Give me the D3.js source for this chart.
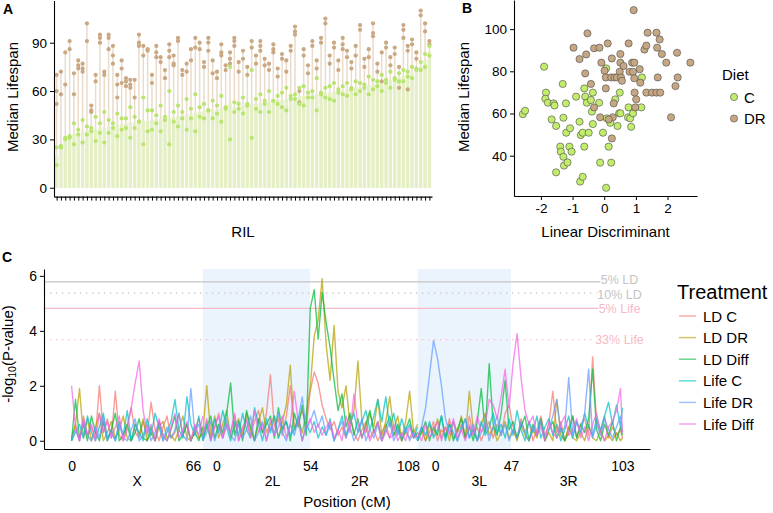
<!DOCTYPE html>
<html><head><meta charset="utf-8">
<script src="https://cdn.jsdelivr.net/npm/d3@7"></script>
<style>
body{margin:0;background:#fff;}
svg{display:block;font-family:"Liberation Sans",Arial,Helvetica,sans-serif;}
</style></head><body>
<svg id="chart" width="773" height="513"></svg>
<script>
// ---------- Panel A: lifespan per RIL (replicate medians) ----------
const cReps = [
[14,25],[25,26],[31,30],[31,32],[40,27],[36,33],[42,28],[38,33],[35,37],[44,29],
[40,34],[47,28],[42,34],[37,40],[46,32],[43,36],[37,43],[50,31],[44,37],[41,41],
[56,27],[48,35],[36,48],[45,40],[51,35],[42,44],[60,27],[47,41],[38,51],[43,47],
[55,36],[49,43],[58,35],[44,50],[52,43],[48,48],[54,43],[46,51],[57,41],[50,49],
[75,30],[53,47],[49,52],[56,46],[51,52],[73,31],[55,49],[47,58],[52,54],[60,47],
[54,54],[57,52],[50,59],[62,48],[55,57],[58,55],[52,62],[63,51],[56,59],[60,56],
[48,68],[58,59],[62,56],[55,63],[65,54],[59,61],[63,58],[57,65],[61,62],[66,58],
[60,65],[64,62],[58,69],[67,61],[63,66],[70,60],[65,67],[62,72],[68,67],[71,66],
[66,73],[72,69],[75,68],[73,74],[78,73],[83,75],[88,82]
];
const drReps = [
[70,60,52],[72,58],[84,64],[91,86],[58,71],[79,76,74],[77,72,74],[102,91],[51,48,47],[70,66],
[95,93,90],[72,70],[95,93,86],[88,82,77],[70,64,56],[79,74,65],[68,66,63],[67,64,62],[67,56],[95,90,88],
[88,82],[86,85],[70,65],[88,84,81],[81,78],[73,68],[89,85,81],[82,77,76],[93,91],[73,70],
[77,72],[86,79],[93,87],[90,86],[78,75],[93,90,85],[79,71],[72,68],[89,84,82],[76,73],
[84,80,77],[93,91,88],[78,72],[85,80],[75,70],[91,87],[82,77],[91,88,85],[80,76],[77,73],
[89,86,84],[74,69],[83,80],[79,72],[88,85],[100,97,95],[60,53],[86,82],[76,71],[91,88],
[79,74],[93,90],[105,102],[82,77],[90,87],[79,73],[93,89,86],[85,81],[78,74],[88,82],
[101,98],[80,75],[86,81],[102,96,94],[77,72],[84,66],[90,87],[81,76],[87,83],[75,62],
[101,98,93],[88,85,61],[92,89],[84,80],[110,107],[102,97],[91,89]
];
const ticksA = [0,30,60,90];

// ---------- Panel B: scatter ----------
const dietNames = ["C","DR"];
const scatterC = [
[-2.57,59.7],[-2.50,61.3],[-1.90,82.2],[-1.84,69.9],[-1.86,67.0],[-1.78,65.1],[-1.60,64.8],[-1.57,63.8],[-1.66,57.2],[-1.52,54.1],
[-1.31,74.0],[-1.29,58.0],[-1.21,64.8],[-1.20,50.9],[-1.08,53.0],[-1.39,44.3],[-1.37,41.9],[-1.29,39.5],[-1.27,35.3],[-1.16,36.8],
[-1.52,32.1],[-1.10,44.3],[-1.03,41.9],[-0.89,68.0],[-0.78,56.1],[-0.74,49.8],[-0.68,50.9],[-0.76,27.7],[-0.68,30.0],[-0.63,71.9],
[-0.60,68.0],[-0.55,65.1],[-0.49,50.9],[-0.63,44.3],[-0.42,66.4],[-0.36,69.9],[-0.39,60.9],[-0.36,55.0],[-0.16,65.1],[-0.04,50.9],
[-0.13,36.7],[0.06,81.4],[0.08,57.7],[0.19,55.6],[0.14,44.3],[0.22,36.7],[0.06,24.8],[0.35,66.7],[0.42,54.1],[0.47,60.1],
[0.51,60.1],[0.49,69.9],[0.75,58.2],[0.77,62.9],[0.82,57.7],[0.85,53.7],[0.91,60.1],[1.19,77.1],[1.17,62.9]
];
const scatterDR = [
[-0.97,91.2],[-0.78,85.8],[-0.57,88.0],[-0.53,98.0],[-0.60,79.0],[-0.42,74.0],[-0.32,90.9],[-0.15,91.2],[-0.09,84.1],[0.01,80.3],
[0.05,77.1],[0.05,71.9],[0.11,93.2],[-0.13,58.2],[-0.32,62.9],[0.24,86.1],[0.22,77.1],[0.32,77.1],[0.40,77.1],[0.51,88.2],
[0.51,84.1],[0.61,82.5],[0.49,79.8],[0.53,77.1],[0.56,75.5],[0.27,58.2],[0.14,57.2],[0.24,48.2],[0.30,64.8],[0.77,93.2],
[0.80,79.8],[0.91,79.8],[0.88,84.1],[0.95,84.1],[0.95,76.7],[0.93,109.0],[0.96,69.9],[1.01,66.7],[0.98,62.9],[1.12,81.0],
[1.27,90.3],[1.33,92.2],[1.37,98.3],[1.33,69.9],[1.51,69.9],[1.65,69.9],[1.77,69.9],[1.65,98.3],[1.75,95.1],[1.67,91.2],
[1.69,77.1],[1.82,88.2],[1.96,84.1],[2.11,58.2],[2.30,88.8],[2.25,73.0],[2.32,77.1],[2.72,84.1],[1.14,74.6]
];
const ticksBx = [-2,-1,0,1,2];
const ticksBy = [40,60,80,100];

// ---------- Panel C: QTL scans ----------
const chromNames = ["X","2","3"];
const chromLength = [66,108,103];
const chromOffset = [0,66,174];
const posStep = 2;
const armNames = ["X","2L","2R","3L","3R"];
const armLabelPos = [33,101,145,205,250];
const shadedArms = [[66,120],[174,221]];
const ticksCpos = [0,66,120,174,221,277];
const ticksClab = ["0","66\u00a0\u00a0\u00a00","54","108\u00a0\u00a0\u00a00","47","103"];
const ticksCy = [0,2,4,6];
const seriesNames = ["LD C","LD DR","LD Diff","Life C","Life DR","Life Diff"];
const seriesColors = ["#F8766D","#B79F00","#00BA38","#00BFC4","#619CFF","#F564E3"];

const ldC_X = [0.1,0.6,0.0,0.9,0.2,0.5,0.1,2.0,0.3,0.8,0.1,1.8,0.2,0.0,0.6,1.2,0.3,0.1,0.7,0.2,1.4,0.4,0.0,0.5,0.9,0.1,0.3,1.0,0.2,0.6,0.0,0.4,0.8,0.2];
const ldC_2 = [0.2,0.7,0.1,0.5,1.0,0.1,0.6,0.3,0.9,0.0,0.5,0.8,0.2,0.7,1.1,0.3,1.0,2.4,0.5,0.8,0.2,0.9,2.0,0.4,0.7,1.1,0.5,1.8,2.5,2.1,1.3,0.8,0.4,0.7,0.2,0.5,0.1,0.9,0.3,0.0,0.4,0.7,0.1,0.4,0.0,0.3,0.6,0.1,0.2,0.5,0.0,0.3,0.1,0.4,0.1];
const ldC_3 = [0.1,0.5,0.0,0.3,0.7,0.0,0.4,0.2,0.8,0.1,0.3,0.6,0.1,0.9,0.2,0.5,0.0,0.4,0.7,0.1,0.6,0.2,1.0,1.3,0.5,0.1,0.8,0.3,0.7,0.0,0.4,0.9,0.2,0.6,1.8,0.3,0.7,0.0,0.5,0.9,0.1,0.6,0.8,0.2,3.05,0.7,0.3,0.9,0.1,0.5,0.2,0.4,0.1];

const ldDR_X = [0.0,0.6,1.9,0.1,0.8,0.0,0.5,1.0,0.0,0.3,0.7,0.1,0.4,0.9,0.1,0.0,0.6,0.2,0.8,0.0,0.3,0.0,0.5,0.7,0.1,0.2,0.0,0.4,0.9,0.1,0.0,0.5,0.1,0.3];
const ldDR_2 = [0.3,2.0,0.2,0.9,0.1,0.6,1.1,0.1,0.5,0.8,0.2,1.0,0.4,0.0,0.7,1.2,0.3,0.6,0.9,0.1,0.7,1.3,2.75,0.4,0.8,0.3,1.0,1.9,3.8,4.4,5.9,3.5,2.2,4.2,1.8,1.2,2.0,0.6,1.1,2.9,0.7,0.3,1.0,0.5,1.5,0.2,0.7,1.6,0.4,0.9,0.1,0.7,1.8,0.3,0.6];
const ldDR_3 = [0.0,0.4,0.0,0.6,0.2,0.8,0.1,0.5,0.0,0.7,0.3,0.9,0.1,1.8,0.4,0.0,0.6,1.0,0.2,0.5,0.0,0.3,0.7,0.1,0.4,0.0,0.6,0.2,0.0,0.4,0.1,0.7,0.0,0.3,0.0,1.5,0.2,0.0,0.5,0.1,0.0,0.3,0.0,0.6,0.1,0.0,0.4,0.0,0.2,0.0,0.3,0.0,0.1];

const ldDiff_X = [0.0,1.5,0.1,0.6,0.0,0.9,0.3,0.0,0.7,0.0,0.4,1.0,0.0,0.2,0.6,0.0,0.3,0.8,0.1,0.0,0.5,0.0,0.7,0.2,0.0,0.4,0.9,0.0,0.2,0.6,0.0,0.3,0.0,0.5];
const ldDiff_2 = [0.0,0.5,0.9,0.1,0.6,0.3,1.0,2.1,0.2,0.7,0.0,1.1,0.5,0.0,0.8,0.3,0.6,0.9,0.1,1.2,0.4,0.7,0.0,1.0,0.5,1.3,0.2,4.8,5.5,3.7,5.4,4.3,3.4,2.2,1.1,1.7,0.5,1.0,0.2,0.8,0.1,0.6,1.1,0.3,0.7,0.0,0.5,0.9,0.2,0.6,0.0,0.4,0.8,0.1,0.3];
const ldDiff_3 = [0.0,0.3,0.7,0.0,0.5,0.2,0.9,0.1,0.6,0.0,0.4,0.8,0.1,0.5,0.0,0.7,1.9,0.3,2.8,0.6,0.2,1.0,2.2,0.4,0.7,0.1,0.5,0.9,0.0,0.6,0.2,0.8,0.0,0.4,0.7,0.1,0.5,0.0,0.3,0.9,0.1,0.6,0.3,0.8,2.6,0.4,0.0,0.6,0.2,0.7,0.0,0.5,0.2];

const lifeC_X = [0.0,0.3,0.6,0.1,0.9,0.3,0.0,0.5,1.0,0.1,0.4,0.0,0.7,0.2,1.1,0.0,0.6,0.3,0.0,0.8,0.2,1.0,0.5,0.0,0.3,0.7,1.5,0.4,0.1,1.6,0.6,0.2,0.9,0.0];
const lifeC_2 = [0.1,0.6,0.0,0.8,0.3,1.1,0.5,0.0,0.7,0.2,1.0,0.4,0.1,1.2,0.6,0.0,0.8,0.3,0.9,0.1,0.5,0.7,0.2,0.4,0.9,0.0,0.6,0.3,0.7,0.1,0.5,0.2,0.8,0.0,0.4,0.9,0.2,0.6,1.0,0.3,0.7,1.1,0.4,0.9,1.5,0.7,1.6,0.5,1.0,0.2,0.8,0.3,0.6,0.1,0.5];
const lifeC_3 = [0.0,0.5,0.2,0.7,0.1,0.4,0.9,0.0,0.6,0.3,0.0,0.5,0.8,0.1,0.4,0.0,0.7,0.2,0.5,1.0,0.3,0.6,0.1,0.8,0.2,1.1,0.4,0.0,0.7,0.3,0.9,0.1,0.5,0.8,0.2,0.6,0.0,0.4,0.9,0.1,0.7,0.3,1.0,0.5,0.2,0.8,0.4,0.9,1.4,0.6,1.3,0.5,1.2];

const lifeDR_X = [0.1,0.4,0.0,0.7,0.2,0.0,0.5,0.1,0.9,0.0,0.3,0.0,0.6,0.1,0.0,0.4,0.8,0.0,0.2,0.6,0.0,0.3,0.7,0.0,0.5,0.1,0.4,1.0,0.2,0.0,1.9,0.3,0.6,0.1];
const lifeDR_2 = [0.0,0.3,0.7,0.0,0.5,0.1,0.8,0.2,0.0,0.6,0.1,0.4,0.9,0.0,0.3,0.7,0.0,0.5,0.2,1.0,0.3,0.0,0.6,0.2,0.8,1.6,0.4,0.7,1.1,0.5,0.9,0.2,0.6,0.0,0.4,0.7,0.1,0.5,0.0,0.3,0.8,0.0,0.4,0.1,0.6,0.0,0.3,0.7,0.0,0.4,0.1,0.5,0.0,0.3,0.0];
const lifeDR_3 = [0.1,0.5,1.2,2.4,3.65,3.0,2.0,0.8,0.3,0.7,0.0,0.4,0.8,0.1,0.6,0.0,0.3,0.7,0.0,0.5,0.9,0.2,0.6,0.0,0.4,0.1,0.7,0.3,0.0,0.5,0.2,0.7,0.1,0.4,0.9,1.5,0.3,0.5,2.3,0.2,0.7,0.3,1.0,2.6,0.1,0.6,0.2,0.8,0.4,0.1,0.5,0.9,0.3];

const lifeDiff_X = [2.0,0.5,0.0,0.8,0.2,0.6,0.0,1.0,0.3,0.7,0.1,0.5,0.9,0.0,0.4,1.2,2.1,2.9,1.1,0.3,0.6,0.0,0.8,0.2,0.0,0.5,1.0,0.1,0.4,0.7,0.0,0.6,0.2,0.9];
const lifeDiff_2 = [0.2,0.8,0.0,0.5,0.9,0.1,0.6,0.3,1.0,0.0,0.4,0.7,0.1,1.1,0.3,0.6,0.0,0.8,0.2,0.5,0.9,0.1,0.6,1.8,0.7,0.0,0.5,0.8,0.3,0.6,0.2,0.5,0.7,0.1,0.4,0.0,0.9,0.3,1.7,0.6,0.1,0.5,0.0,0.3,0.7,0.0,0.4,0.1,0.6,0.0,0.3,0.0,0.5,0.1,0.2];
const lifeDiff_3 = [0.3,0.0,0.6,0.1,0.4,0.7,0.0,0.5,0.2,0.8,0.1,0.4,0.0,0.6,0.2,0.9,0.3,0.6,1.5,1.3,0.8,1.6,2.6,1.2,2.8,3.9,2.3,1.1,0.6,0.9,0.2,0.5,0.0,0.7,0.3,0.1,0.6,0.9,0.2,0.4,0.8,0.1,0.5,0.0,0.6,1.0,0.3,0.0,0.5,0.7,1.1,1.9,0.3];

const seriesValues = [
  [ldC_X, ldC_2, ldC_3],
  [ldDR_X, ldDR_2, ldDR_3],
  [ldDiff_X, ldDiff_2, ldDiff_3],
  [lifeC_X, lifeC_2, lifeC_3],
  [lifeDR_X, lifeDR_2, lifeDR_3],
  [lifeDiff_X, lifeDiff_2, lifeDiff_3]
];

const thrValues = [5.78, 5.37, 4.82, 3.68];
const thrLabels = ["5% LD","10% LD","5% Life","33% Life"];
const thrColors = ["#c4c4c4","#c4c4c4","#f7b9c6","#f7b9c6"];
const thrDashed = [false, true, false, true];

// ================= drawing =================
const FONT = '"Liberation Sans",Arial,Helvetica,sans-serif';
const svg = d3.select("#chart");
svg.append("rect").attr("width",773).attr("height",513).attr("fill","#fff");

function styleAxis(g, fs){
  g.attr("font-family", FONT).attr("font-size", fs);
  g.select(".domain").attr("stroke","#000").attr("stroke-width",1.1);
  g.selectAll(".tick line").attr("stroke","#000").attr("stroke-width",1);
  g.selectAll(".tick text").attr("fill","#000");
}
function panelLabel(t,x,y){
  svg.append("text").attr("x",x).attr("y",y).attr("font-weight","bold").attr("font-size",14).text(t);
}

// ---------- Panel A ----------
const nRIL = cReps.length;
const xA = d3.scaleLinear().domain([0.4, nRIL + 0.6]).range([54, 432]);
const yA = d3.scaleLinear().domain([-5.5, 116.2]).range([196.6, 0.5]);
const stepA = xA(2) - xA(1);
const gA = svg.append("g");
gA.selectAll("line.dr").data(drReps).join("line").attr("class","dr")
  .attr("x1",(d,i)=>xA(i+1)).attr("x2",(d,i)=>xA(i+1))
  .attr("y1",yA(0)).attr("y2",d=>yA(d3.max(d)))
  .attr("stroke","#eadbcb").attr("stroke-width",1.5);
gA.selectAll("rect.c").data(cReps).join("rect").attr("class","c")
  .attr("x",(d,i)=>xA(i+1)-stepA*0.4).attr("width",stepA*0.8)
  .attr("y",d=>yA(d3.mean(d))).attr("height",d=>yA(0)-yA(d3.mean(d)))
  .attr("fill","#e5efc6");
const drDots = drReps.flatMap((v,i)=>v.map(y=>({i,y})));
const cDots = cReps.flatMap((v,i)=>v.map(y=>({i,y})));
gA.selectAll("circle.drd").data(drDots).join("circle")
  .attr("cx",d=>xA(d.i+1)).attr("cy",d=>yA(d.y)).attr("r",2.1).attr("fill","#c9a883");
gA.selectAll("circle.cd").data(cDots).join("circle")
  .attr("cx",d=>xA(d.i+1)).attr("cy",d=>yA(d.y)).attr("r",2.1).attr("fill","#b9e46f");
const axAy = gA.append("g").attr("transform","translate(54,0)")
  .call(d3.axisLeft(yA).tickValues(ticksA).tickSize(4).tickSizeOuter(0).tickPadding(3));
styleAxis(axAy, 13.5);
const axAx = gA.append("g").attr("transform",`translate(0,${yA.range()[0]})`)
  .call(d3.axisBottom(xA).tickValues(d3.range(1,nRIL+1)).tickFormat("").tickSize(4).tickSizeOuter(0));
styleAxis(axAx, 13.5);
svg.append("text").attr("transform","translate(18,97) rotate(-90)").attr("text-anchor","middle")
  .attr("font-size",15).text("Median Lifespan");
svg.append("text").attr("x",243).attr("y",237).attr("text-anchor","middle").attr("font-size",15).text("RIL");
panelLabel("A",3,14);

// ---------- Panel B ----------
const xB = d3.scaleLinear().domain([-2.85, 2.93]).range([514, 697]);
const yB = d3.scaleLinear().domain([20.9, 113.8]).range([196, 0]);
const dietFill = ["#c2ec6c","#c6a783"];
const gB = svg.append("g");
[scatterC, scatterDR].forEach((pts,k)=>{
  gB.append("g").selectAll("circle").data(pts).join("circle")
    .attr("cx",d=>xB(d[0])).attr("cy",d=>yB(d[1])).attr("r",3.6)
    .attr("fill",dietFill[k]).attr("stroke","#4a4a4a").attr("stroke-width",0.6);
});
const axBy = gB.append("g").attr("transform","translate(514,0)")
  .call(d3.axisLeft(yB).tickValues(ticksBy).tickSize(4).tickSizeOuter(0).tickPadding(3));
styleAxis(axBy, 13.5);
const axBx = gB.append("g").attr("transform","translate(0,196)")
  .call(d3.axisBottom(xB).tickValues(ticksBx).tickSize(4).tickSizeOuter(0).tickPadding(3));
styleAxis(axBx, 13.5);
axBx.selectAll(".tick text").text(d=>String(d));
svg.append("text").attr("transform","translate(469,97) rotate(-90)").attr("text-anchor","middle")
  .attr("font-size",15).text("Median Lifespan");
svg.append("text").attr("x",605.5).attr("y",237).attr("text-anchor","middle").attr("font-size",15).text("Linear Discriminant");
panelLabel("B",462,13);
svg.append("text").attr("x",722).attr("y",80).attr("font-size",15).text("Diet");
dietNames.forEach((n,k)=>{
  const cy = 97 + k*21.5;
  svg.append("circle").attr("cx",734).attr("cy",cy).attr("r",3.6).attr("fill",dietFill[k]).attr("stroke","#4a4a4a").attr("stroke-width",0.6);
  svg.append("text").attr("x",744).attr("y",cy+5.5).attr("font-size",15).text(n);
});

// ---------- Panel C ----------
const xC = d3.scaleLinear().domain([-13.85, 290.85]).range([44, 650]);
const yC = d3.scaleLinear().domain([-0.3, 6.25]).range([449, 269]);
const gC = svg.append("g");
gC.selectAll("rect.shade").data(shadedArms).join("rect")
  .attr("x",d=>xC(d[0])).attr("width",d=>xC(d[1])-xC(d[0]))
  .attr("y",yC.range()[1]).attr("height",yC.range()[0]-yC.range()[1])
  .attr("fill","#ebf4fd");
const labelNudge = [-1.8, 1.8, 0, 0];
thrValues.forEach((v,k)=>{
  const y = yC(v);
  const t = gC.append("text").attr("x",619.5).attr("y",y+4.3+labelNudge[k]).attr("text-anchor","middle")
    .attr("font-size",12.5).attr("fill",thrColors[k]).text(thrLabels[k]);
  const bb = t.node().getBBox();
  gC.insert("line","text").attr("x1",44).attr("x2",bb.x-0.5).attr("y1",y).attr("y2",y)
    .attr("stroke",thrColors[k]).attr("stroke-width",1.3)
    .attr("stroke-dasharray",thrDashed[k]?"1.3,4.7":null);
});
const lineGen = d3.line().x(d=>xC(d[0])).y(d=>yC(d[1]));
seriesValues.forEach((chroms,s)=>{
  chroms.forEach((vals,c)=>{
    const pts = vals.map((v,k)=>[chromOffset[c] + Math.min(k*posStep, chromLength[c]), v]);
    gC.append("path").datum(pts).attr("d",lineGen).attr("fill","none")
      .attr("stroke",seriesColors[s]).attr("stroke-opacity",0.72).attr("stroke-width",1.4)
      .attr("stroke-linejoin","round");
  });
});
const axCy = gC.append("g").attr("transform","translate(44,0)")
  .call(d3.axisLeft(yC).tickValues(ticksCy).tickFormat(d3.format("d")).tickSize(4).tickSizeOuter(0).tickPadding(3));
styleAxis(axCy, 14);
const axCx = gC.append("g").attr("transform","translate(0,449)")
  .call(d3.axisBottom(xC).tickValues(ticksCpos).tickFormat((d,i)=>ticksClab[i]).tickSize(0).tickSizeOuter(0).tickPadding(12));
styleAxis(axCx, 14);
gC.selectAll("text.arm").data(armNames).join("text").attr("class","arm")
  .attr("x",(d,i)=>xC(armLabelPos[i])).attr("y",486).attr("text-anchor","middle")
  .attr("font-size",14).text(d=>d);
svg.append("text").attr("x",347).attr("y",507).attr("text-anchor","middle").attr("font-size",15).text("Position (cM)");
const yt = svg.append("text").attr("transform","translate(13,354) rotate(-90)").attr("text-anchor","middle").attr("font-size",15);
yt.append("tspan").text("-log");
yt.append("tspan").attr("font-size",10.5).attr("dy",3).text("10");
yt.append("tspan").attr("dy",-3).text("(P-value)");
panelLabel("C",2,262);
svg.append("text").attr("x",677).attr("y",299).attr("font-size",20).text("Treatment");
seriesNames.forEach((n,s)=>{
  const cy = 316 + s*21.6;
  svg.append("line").attr("x1",679).attr("x2",696).attr("y1",cy).attr("y2",cy)
    .attr("stroke",seriesColors[s]).attr("stroke-opacity",0.6).attr("stroke-width",1.5);
  svg.append("text").attr("x",703).attr("y",cy+5.5).attr("font-size",15).text(n);
});
</script>
</body></html>
